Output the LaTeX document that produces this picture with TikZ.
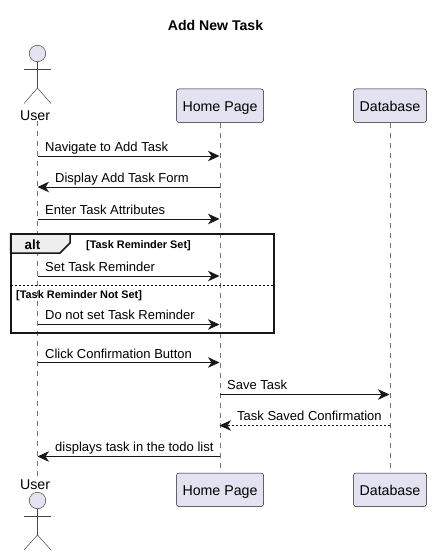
\documentclass[tikz,border=0pt]{standalone}
\usepackage{fontspec}
\setmainfont{Liberation Sans}
\usetikzlibrary{arrows.meta, positioning, calc}
\definecolor{umlline}{HTML}{181818}
\definecolor{umlfill}{HTML}{E2E2F0}
\definecolor{umltab}{HTML}{EEEEEE}

\begin{document}
\begin{tikzpicture}[
    x=1pt,
    y=-1pt,
    box/.style={
        rectangle,
        draw=umlline,
        fill=umlfill,
        line width=0.5pt,
        rounded corners=2.5pt,
        minimum height=33.5pt,
        inner sep=0pt,
        text height=12pt,
        text depth=0pt,
        text centered,
        font=\fontsize{14.2}{17}\selectfont
    },
    actorlabel/.style={
        inner sep=0pt,
        font=\fontsize{14.2}{17}\selectfont
    },
    msg/.style={
        anchor=base west,
        inner sep=0pt,
        text=black,
        font=\fontsize{13}{16}\selectfont
    },
    guard/.style={
        anchor=base west,
        inner sep=0pt,
        font=\bfseries\fontsize{10.9}{13}\selectfont
    },
    arrow/.style={
        -{Stealth[length=11.5pt,width=10.5pt,inset=3.5pt]},
        line width=0.9pt,
        umlline
    },
    lifeline/.style={
        draw=umlline!60,
        line width=0.5pt,
        dash pattern=on 5pt off 5pt
    },
    stick/.style={
        draw=umlline!80,
        line width=0.5pt
    },
    frameline/.style={
        draw=umlline,
        line width=2pt
    }
]
    % participants
    \node[font=\bfseries\fontsize{14.1}{17}\selectfont, inner sep=0pt] (title) at (215.5,25) {Add New Task};
    \node[actorlabel] (userTop) at (35,115.5) {User};
    \node[actorlabel] (userBot) at (35,484.5) {User};
    \node[box, minimum width=87pt] (homeTop) at (220,105.75) {Home Page};
    \node[box, minimum width=87pt] (homeBot) at (220,489.75) {Home Page};
    \node[box, minimum width=73pt] (dbTop) at (390,105.75) {Database};
    \node[box, minimum width=73pt] (dbBot) at (390,489.75) {Database};

    % stick figures
    \foreach \name/\y in {headTop/53.5, headBot/500.5} {
        \node[circle, draw=umlline!80, fill=umlfill, line width=0.5pt, minimum size=16.5pt, inner sep=0pt] (\name) at (37.5,\y) {};
    }
    \foreach \name/\y in {hipTop/88, hipBot/535} {
        \coordinate (\name) at (37.5,\y);
    }
    \draw[stick] (headTop.south) -- (hipTop);
    \draw[stick] (24,69.5) -- (51,69.5);
    \draw[stick] (24,103.5) -- (hipTop) -- (51,103.5);
    \draw[stick] (headBot.south) -- (hipBot);
    \draw[stick] (24,516) -- (51,516);
    \draw[stick] (24,550) -- (hipBot) -- (51,550);

    % lifelines
    \draw[lifeline] (userTop.south -| headTop) -- (userBot.north -| headTop);
    \draw[lifeline] (homeTop.south) -- (homeBot.north);
    \draw[lifeline] (dbTop.south) -- (dbBot.north);

    % alt frame
    \draw[frameline, line width=1.5pt, fill=umltab] (10.5,234) -- (70,234) -- (70,243) -- (60,253) -- (10.5,253) -- cycle;
    \draw[frameline] (10.5,234) rectangle (273.5,332.5);
    \draw[draw=black, line width=0.8pt, dash pattern=on 2pt off 2pt] (10.5,285.3) -- (273.5,285.3);
    \node[inner sep=0pt, font=\bfseries\fontsize{13.4}{16}\selectfont] (altLabel) at (32.5,245) {alt};
    \node[guard] (setGuard) at (86,248.5) {[Task Reminder Set]};
    \node[guard] (notSetGuard) at (16,298) {[Task Reminder Not Set]};

    % message end points
    \foreach \name/\y in {nav/156, disp/187, enter/219, set/276, notset/324.5, click/362.5, show/456.5} {
        \coordinate (user\name) at (37.5,\y);
        \coordinate (home\name) at (219.5,\y);
    }
    \foreach \name/\y in {save/394.5, saved/425.5} {
        \coordinate (home\name) at (219.5,\y);
        \coordinate (db\name) at (389.5,\y);
    }

    % messages
    \node[msg] (navLabel) at (45,151.5) {Navigate to Add Task};
    \node[msg] (dispLabel) at (55,182.5) {Display Add Task Form};
    \node[msg] (enterLabel) at (45,214.5) {Enter Task Attributes};
    \node[msg] (setLabel) at (45,271.5) {Set Task Reminder};
    \node[msg] (notsetLabel) at (45,319.5) {Do not set Task Reminder};
    \node[msg] (clickLabel) at (45,358) {Click Confirmation Button};
    \node[msg] (saveLabel) at (227,389.5) {Save Task};
    \node[msg] (savedLabel) at (237,420.5) {Task Saved Confirmation};
    \node[msg] (showLabel) at (55,451.5) {displays task in the todo list};

    \draw[arrow] (usernav) -- (homenav);
    \draw[arrow] (homedisp) -- (userdisp);
    \draw[arrow] (userenter) -- (homeenter);
    \draw[arrow] (userset) -- (homeset);
    \draw[arrow] (usernotset) -- (homenotset);
    \draw[arrow] (userclick) -- (homeclick);
    \draw[arrow] (homesave) -- (dbsave);
    \draw[arrow, dash pattern=on 2pt off 2pt] (dbsaved) -- (homesaved);
    \draw[arrow] (homeshow) -- (usershow);

    \useasboundingbox (0,0) rectangle (431,556);
\end{tikzpicture}
\end{document}
